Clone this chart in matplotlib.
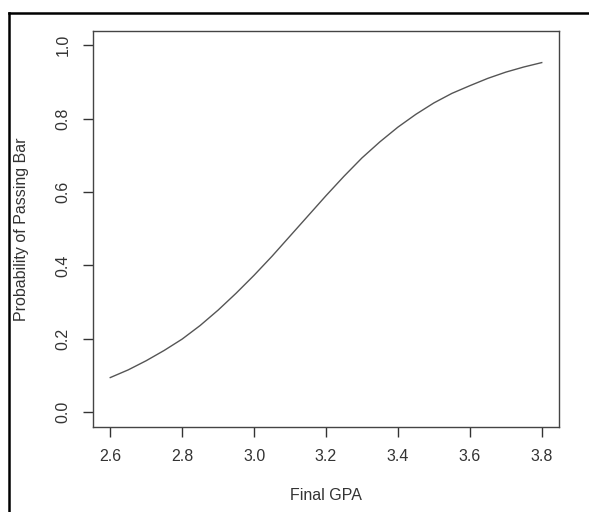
import matplotlib
matplotlib.use("Agg")
import matplotlib.pyplot as plt
from matplotlib.lines import Line2D

# values
gpa = [2.60, 2.65, 2.70, 2.75, 2.80, 2.85, 2.90, 2.95, 3.00, 3.05, 3.10, 3.15, 3.20,
       3.25, 3.30, 3.35, 3.40, 3.45, 3.50, 3.55, 3.60, 3.65, 3.70, 3.75, 3.80]
p_pass = [0.094, 0.115, 0.140, 0.168, 0.199, 0.236, 0.278, 0.324, 0.373, 0.425, 0.480,
          0.535, 0.590, 0.643, 0.693, 0.737, 0.777, 0.812, 0.843, 0.869, 0.890, 0.910,
          0.927, 0.941, 0.953]
xticks = [2.6, 2.8, 3.0, 3.2, 3.4, 3.6, 3.8]
yticks = [0.0, 0.2, 0.4, 0.6, 0.8, 1.0]

plt.rcParams['font.family'] = ['Liberation Sans', 'DejaVu Sans']

W, H = 589, 512
fs = 11.5
fig = plt.figure(figsize=(W / 100, H / 100), dpi=100)
ax = fig.add_axes([93 / W, 1 - 426.7 / H, 466 / W, 396 / H])

ax.plot(gpa, p_pass, color='#555555', lw=1.0)

# R-style 4% padding, ylim = c(0, 1)
xr = max(gpa) - min(gpa)
ax.set_xlim(min(gpa) - 0.04 * xr, max(gpa) + 0.04 * xr)
ax.set_ylim(-0.04, 1.04)

ax.set_xticks(xticks)
ax.set_xticklabels([f"{v:.1f}" for v in xticks])
ax.set_yticks(yticks)
ax.set_yticklabels([f"{v:.1f}" for v in yticks], rotation=90, va='center')
ax.tick_params(length=7.2, width=1.0, color='#333333', labelsize=fs,
               labelcolor='#333333', pad=9)
for s in ax.spines.values():
    s.set_color('#444444')
    s.set_linewidth(1.0)

fig.text(326 / W, 1 - 495 / H, 'Final GPA', ha='center', va='center',
         fontsize=fs, color='#333333')
fig.text(22 / W, 1 - 229 / H, 'Probability of Passing Bar', ha='center',
         va='center', rotation=90, fontsize=fs, color='#333333')

# outer frame (top and left edges only, as in the screenshot)
fig.add_artist(Line2D([8.5 / W, 1], [1 - 13 / H, 1 - 13 / H], color='black', lw=1.8,
                      transform=fig.transFigure))
fig.add_artist(Line2D([8.5 / W, 8.5 / W], [0, 1 - 13 / H], color='black', lw=1.8,
                      transform=fig.transFigure))

fig.savefig('out.png', dpi=100)
